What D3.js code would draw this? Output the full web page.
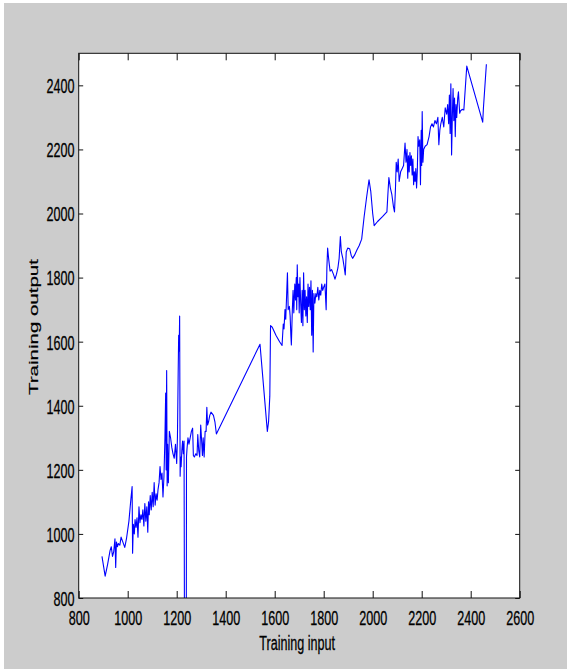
<!DOCTYPE html>
<html>
<head>
<meta charset="utf-8">
<script src="https://cdn.jsdelivr.net/npm/d3@7"></script>
<style>
  html, body { margin: 0; padding: 0; background: #ffffff; }
  svg { display: block; }
  text { font-family: "Liberation Sans", Arial, sans-serif; fill: #000; }
</style>
</head>
<body>
<svg id="chart" width="567" height="669"></svg>
<script>
// Training input (sorted) and the network's training output
const trainInput = [
  895, 908, 918, 928, 933, 938, 943, 948, 951, 954, 958, 962, 968, 973, 980, 988, 995,
  1005, 1012, 1018, 1020, 1023, 1027, 1030, 1034, 1038, 1042, 1046, 1050, 1054, 1058, 1062, 1066,
  1070, 1074, 1078, 1082, 1085, 1088, 1092, 1096, 1100, 1104, 1108, 1112, 1116, 1120, 1124, 1128,
  1132, 1136, 1140, 1144, 1148,
  1152, 1155, 1157, 1159, 1161, 1163, 1166, 1170, 1175, 1180, 1185, 1190, 1195, 1200, 1203, 1206,
  1208, 1210, 1212, 1214, 1216, 1218, 1221, 1224, 1227, 1230, 1232, 1239, 1240, 1242, 1246, 1250,
  1255, 1260, 1265, 1268, 1272, 1278, 1283, 1286, 1290, 1294, 1298, 1301, 1305, 1308, 1312, 1316,
  1320, 1323, 1326, 1330, 1335, 1340, 1350, 1356, 1362,
  1540, 1570, 1575, 1580, 1583, 1590, 1605, 1620, 1630, 1635, 1638, 1642, 1645, 1648, 1652, 1655,
  1660, 1663, 1666, 1668, 1672, 1675, 1678, 1682, 1685, 1688, 1690, 1692, 1695, 1698, 1700, 1703,
  1706, 1709, 1712, 1715, 1718, 1721, 1724, 1727, 1730, 1733, 1736, 1739, 1742, 1745, 1748, 1751,
  1754, 1757, 1760, 1764, 1768, 1772, 1776, 1780, 1784, 1788, 1792, 1796, 1800, 1805, 1810, 1813,
  1816, 1820, 1826, 1832, 1840, 1846, 1852, 1858, 1863, 1868, 1872, 1878, 1884, 1888, 1892, 1898,
  1906, 1912, 1918, 1926, 1935, 1945, 1955, 1965, 1975, 1985, 1992, 2000, 2006, 2020, 2040, 2058,
  2062, 2066, 2072, 2078, 2085, 2089, 2093, 2096, 2100, 2104, 2108, 2114, 2120, 2126, 2132, 2136,
  2140, 2143, 2146, 2149, 2152, 2155, 2158, 2161, 2164, 2167, 2170, 2173, 2176, 2179, 2182, 2185,
  2188, 2192, 2195, 2198, 2200, 2202, 2205, 2208, 2214, 2222, 2230, 2236, 2242, 2248, 2254, 2260,
  2266, 2270, 2274, 2278, 2284, 2290, 2296, 2302, 2306, 2310, 2313, 2316, 2319, 2322, 2325, 2328,
  2331, 2334, 2337, 2340, 2343, 2347, 2350, 2355, 2358, 2365, 2372, 2384, 2449, 2452, 2464
];
const trainOutput = [
  930, 868, 905, 948, 960, 930, 945, 985, 895, 975, 960, 970, 965, 990, 975, 958, 985,
  1040, 1100, 1148, 940, 1030, 1000, 1045, 1020, 1050, 990, 1085, 1035, 1060, 1045, 1075, 1025,
  1095, 1040, 1085, 1005, 1100, 1060, 1120, 1075, 1130, 1085, 1160, 1090, 1125, 1105, 1140, 1160,
  1210, 1170, 1190, 1115, 1180,
  1300, 1440, 1200, 1510, 1150, 1280, 1160, 1320, 1300, 1270, 1250, 1236, 1280, 1220, 1300, 1500,
  1620, 1570, 1680, 1180, 1240, 1210, 1260, 1290, 1250, 1290, 600, 600, 1240, 1265, 1300, 1280,
  1300, 1320, 1330, 1245, 1240, 1250, 1245, 1310, 1260, 1240, 1340, 1300, 1245, 1300, 1240, 1320,
  1320, 1395, 1340, 1350, 1370, 1380, 1370, 1350, 1312,
  1592, 1320, 1350, 1430, 1650, 1645, 1620, 1600, 1588, 1655, 1640, 1700, 1670, 1730, 1815, 1700,
  1710, 1680, 1620, 1590, 1700, 1760, 1690, 1780, 1730, 1800, 1700, 1840, 1740, 1780, 1690, 1800,
  1720, 1660, 1760, 1650, 1815, 1700, 1760, 1680, 1740, 1660, 1780, 1710, 1770, 1700, 1790, 1620,
  1760, 1568, 1750, 1720, 1750, 1740, 1770, 1730, 1760, 1745, 1780, 1760, 1770, 1780, 1700, 1830,
  1892, 1860, 1820, 1825, 1810, 1795, 1810, 1830, 1860, 1928, 1880, 1860, 1830, 1808, 1880, 1892,
  1890, 1870, 1860, 1870, 1885, 1900, 1920, 1990, 2050, 2105, 2070, 2000, 1962, 1975, 1990, 2005,
  2060, 2112, 2080, 2060, 2020, 2005, 2080, 2160, 2130, 2170, 2100, 2130, 2140, 2150, 2220, 2160,
  2200, 2110, 2180, 2130, 2190, 2150, 2180, 2120, 2170, 2090, 2130, 2100, 2140, 2080, 2130, 2240,
  2210, 2230, 2090, 2260, 2150, 2318, 2160, 2200, 2210, 2215, 2240, 2270, 2280, 2270, 2290, 2280,
  2300, 2215, 2260, 2280, 2300, 2270, 2330, 2310, 2340, 2280, 2370, 2250, 2405, 2183, 2300, 2390,
  2290, 2360, 2240, 2340, 2300, 2360, 2380, 2313, 2320, 2325, 2323, 2460, 2285, 2330, 2466
];
const xTicks = [800, 1000, 1200, 1400, 1600, 1800, 2000, 2200, 2400, 2600];
const yTicks = [800, 1000, 1200, 1400, 1600, 1800, 2000, 2200, 2400];

const svg = d3.select("#chart");
const plotLeft = 78.7, plotRight = 519.7, plotTop = 53.3, plotBottom = 598;
const squeeze = 0.6;

// figure background
svg.append("rect").attr("x", 4).attr("y", 3).attr("width", 563).attr("height", 666).attr("fill", "#cccccc");
svg.append("rect").attr("x", plotLeft).attr("y", plotTop)
  .attr("width", plotRight - plotLeft).attr("height", plotBottom - plotTop)
  .attr("fill", "#ffffff");

const x = d3.scaleLinear().domain([800, 2600]).range([plotLeft, plotRight]);
const y = d3.scaleLinear().domain([800, 2500]).range([plotBottom, plotTop]);

svg.append("clipPath").attr("id", "plotClip")
  .append("rect").attr("x", plotLeft).attr("y", plotTop)
  .attr("width", plotRight - plotLeft).attr("height", plotBottom - plotTop);

const pts = trainInput.map((v, i) => [v, trainOutput[i]]);
svg.append("path")
  .attr("clip-path", "url(#plotClip)")
  .attr("d", d3.line().x(d => x(d[0])).y(d => y(d[1]))(pts))
  .attr("fill", "none").attr("stroke", "#0000ff").attr("stroke-width", 1.1)
  .attr("stroke-linejoin", "round");

// axes with inward ticks on all four sides
const gx = svg.append("g").attr("transform", `translate(0,${plotBottom})`)
  .call(d3.axisBottom(x).tickValues(xTicks).tickSize(-7).tickSizeOuter(0).tickFormat(d3.format("d")));
const gxt = svg.append("g").attr("transform", `translate(0,${plotTop})`)
  .call(d3.axisTop(x).tickValues(xTicks).tickSize(-7).tickSizeOuter(0).tickFormat(""));
const gy = svg.append("g").attr("transform", `translate(${plotLeft},0)`)
  .call(d3.axisLeft(y).tickValues(yTicks).tickSize(-4.5).tickSizeOuter(0).tickFormat(d3.format("d")));
const gyr = svg.append("g").attr("transform", `translate(${plotRight},0)`)
  .call(d3.axisRight(y).tickValues(yTicks).tickSize(-4.5).tickSizeOuter(0).tickFormat(""));

[gx, gxt, gy, gyr].forEach(g => {
  g.select(".domain").remove();
  g.selectAll("line").attr("stroke", "#111").attr("stroke-width", 1);
});

gx.selectAll("text")
  .attr("font-size", 21).attr("font-family", "Liberation Sans, Arial, sans-serif").attr("fill", "#000")
  .attr("stroke", "#000").attr("stroke-width", 0.3)
  .attr("y", 12).attr("dy", "0.71em")
  .attr("transform", `scale(${squeeze},1)`);
gy.selectAll("text")
  .attr("font-size", 21).attr("font-family", "Liberation Sans, Arial, sans-serif").attr("fill", "#000")
  .attr("stroke", "#000").attr("stroke-width", 0.3)
  .attr("x", -7).attr("dy", "0.35em")
  .attr("transform", `scale(${squeeze},1)`);

// plot box
svg.append("rect").attr("x", plotLeft).attr("y", plotTop)
  .attr("width", plotRight - plotLeft).attr("height", plotBottom - plotTop)
  .attr("fill", "none").attr("stroke", "#111").attr("stroke-width", 1);

// axis titles
svg.append("text")
  .attr("transform", `translate(${(plotLeft + plotRight) / 2 - 2},650) scale(${squeeze},1)`)
  .attr("text-anchor", "middle").attr("font-size", 21)
  .attr("stroke", "#000").attr("stroke-width", 0.3)
  .text("Training input");
svg.append("text")
  .attr("transform", `translate(37.5,327) scale(${squeeze},1) rotate(-90)`)
  .attr("text-anchor", "middle").attr("font-size", 20.5)
  .attr("stroke", "#000").attr("stroke-width", 0.3)
  .text("Training output");
</script>
</body>
</html>
